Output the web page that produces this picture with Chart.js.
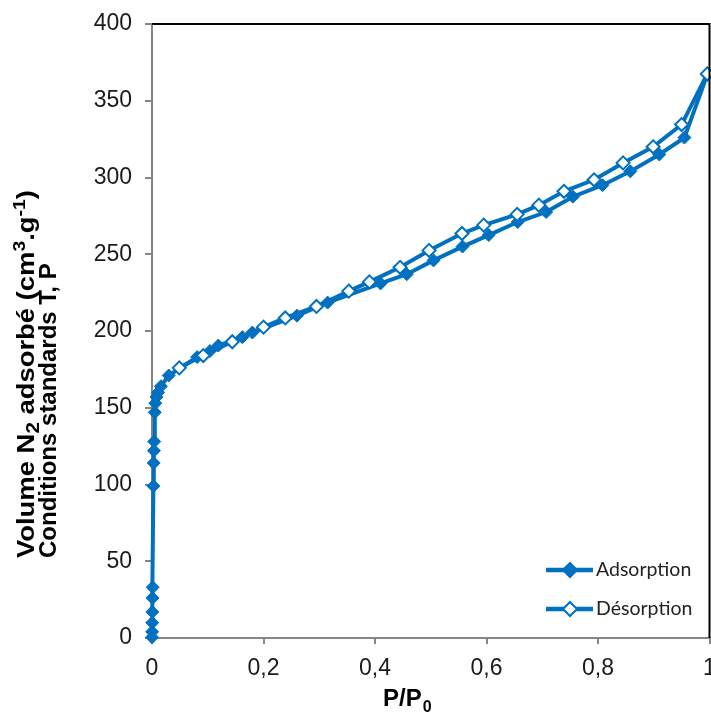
<!DOCTYPE html>
<html>
<head>
<meta charset="utf-8">
<script src="https://cdn.jsdelivr.net/npm/chart.js@4.4.1/dist/chart.umd.min.js"></script>
<style>
  html, body { margin: 0; padding: 0; background: #ffffff; }
  #wrap { width: 711px; height: 715px; position: relative; }
</style>
</head>
<body>
<div id="wrap"><canvas id="c" width="711" height="715"></canvas></div>
<script>
// ---- Data ----
const adsX = [0, 0.0002, 0.0004, 0.0006, 0.0009, 0.0012, 0.0025, 0.003, 0.0035, 0.004, 0.005, 0.006, 0.008, 0.011, 0.016, 0.03, 0.081, 0.104, 0.119, 0.162, 0.18, 0.26, 0.315, 0.41, 0.457, 0.505, 0.557, 0.604, 0.656, 0.707, 0.755, 0.808, 0.858, 0.91, 0.955, 0.996];
const adsY = [0.5, 4, 10, 17, 26, 33, 99, 114, 122, 128, 147, 153, 157, 160, 164, 171, 183, 187, 190.5, 196, 199, 210, 218.5, 231, 237, 246, 255, 262.5, 271, 277.5, 287.5, 295, 304, 315, 326, 367];
const desX = [0.049, 0.092, 0.144, 0.2, 0.239, 0.295, 0.353, 0.39, 0.445, 0.497, 0.556, 0.595, 0.655, 0.694, 0.739, 0.793, 0.845, 0.899, 0.95, 0.996];
const desY = [176, 184, 193, 202.5, 208.5, 216, 226, 232, 241.5, 252.5, 263.5, 269, 276, 282, 291, 298.5, 309.5, 320, 334.5, 367.5];
const seriesNames = ['Adsorption', 'Désorption'];
const xTickLabels = ['0', '0,2', '0,4', '0,6', '0,8', '1'];
const yTickLabels = ['0', '50', '100', '150', '200', '250', '300', '350', '400'];
const xTitle = ['P/P', '0'];
const yTitleLine1 = [['Volume N', 'n'], ['2', 'sub'], [' adsorbé (cm', 'n'], ['3', 'sup'], ['.g', 'n'], ['-1', 'sup'], [')', 'n']];
const yTitleLine2 = 'Conditions standards T, P';

const BLUE = '#0070C0';
const toPts = (xs, ys) => xs.map((x, i) => ({ x: x, y: ys[i] }));

const extras = {
  id: 'extras',
  afterDraw(chart) {
    const ctx = chart.ctx;
    const a = chart.chartArea;
    ctx.save();
    // plot frame top & right
    ctx.strokeStyle = '#000000';
    ctx.lineWidth = 2;
    ctx.beginPath();
    ctx.moveTo(a.left, a.top);
    ctx.lineTo(a.right, a.top);
    ctx.lineTo(a.right, a.bottom);
    ctx.stroke();

    // legend
    const items = [
      { name: seriesNames[0], y: 570, fill: BLUE },
      { name: seriesNames[1], y: 609, fill: '#ffffff' }
    ];
    items.forEach(it => {
      ctx.strokeStyle = BLUE;
      ctx.lineWidth = 4.5;
      ctx.beginPath();
      ctx.moveTo(546, it.y);
      ctx.lineTo(593, it.y);
      ctx.stroke();
      ctx.beginPath();
      const r = 7;
      ctx.moveTo(570, it.y - r);
      ctx.lineTo(570 + r, it.y);
      ctx.lineTo(570, it.y + r);
      ctx.lineTo(570 - r, it.y);
      ctx.closePath();
      ctx.fillStyle = it.fill;
      ctx.fill();
      ctx.lineWidth = 2;
      ctx.stroke();
      ctx.fillStyle = '#222222';
      ctx.font = '19.5px Lato';
      ctx.textBaseline = 'middle';
      ctx.textAlign = 'left';
      ctx.fillText(it.name, 596, it.y);
    });

    // x title
    ctx.fillStyle = '#000000';
    ctx.textBaseline = 'alphabetic';
    ctx.font = 'bold 24px "Liberation Sans"';
    let xx = 383;
    ctx.fillText(xTitle[0], xx, 706);
    xx += ctx.measureText(xTitle[0]).width;
    ctx.font = 'bold 16px "Liberation Sans"';
    ctx.fillText(xTitle[1], xx + 1, 712);

    // y title (rotated)
    ctx.rotate(-Math.PI / 2);
    const fonts = { n: 'bold 24px "Liberation Sans"', sub: 'bold 18px "Liberation Sans"', sup: 'bold 17px "Liberation Sans"' };
    let total = 0;
    yTitleLine1.forEach(([t, k]) => { ctx.font = fonts[k]; total += ctx.measureText(t).width; });
    const stretch = 368 / total;
    ctx.save();
    ctx.translate(-558, 0);
    ctx.scale(stretch, 1);
    let px = 0;
    const base1 = 34;
    yTitleLine1.forEach(([t, k]) => {
      ctx.font = fonts[k];
      const dy = k === 'sub' ? 5 : (k === 'sup' ? -9 : 0);
      ctx.fillText(t, px, base1 + dy);
      px += ctx.measureText(t).width;
    });
    ctx.restore();
    ctx.font = fonts.n;
    ctx.fillText(yTitleLine2, -558, 56);
    ctx.restore();
  }
};

new Chart(document.getElementById('c'), {
  type: 'scatter',
  data: {
    datasets: [
      {
        label: seriesNames[1],
        data: toPts(desX, desY),
        showLine: true,
        borderColor: BLUE,
        borderWidth: 4,
        pointStyle: 'rectRot',
        pointRadius: 6.5,
        pointBorderWidth: 2,
        pointBackgroundColor: '#ffffff',
        pointBorderColor: BLUE,
        tension: 0,
        clip: false,
        order: 0
      },
      {
        label: seriesNames[0],
        data: toPts(adsX, adsY),
        showLine: true,
        borderColor: BLUE,
        borderWidth: 4,
        pointStyle: 'rectRot',
        pointRadius: 6.5,
        pointBorderWidth: 1,
        pointBackgroundColor: BLUE,
        pointBorderColor: BLUE,
        tension: 0,
        clip: false,
        order: 1
      }
    ]
  },
  options: {
    responsive: false,
    animation: false,
    devicePixelRatio: 1,
    layout: { autoPadding: false, padding: { top: 24, right: 1.5, bottom: 0, left: 0 } },
    plugins: {
      legend: { display: false },
      tooltip: { enabled: false }
    },
    scales: {
      x: {
        type: 'linear',
        min: 0,
        max: 1,
        ticks: {
          stepSize: 0.2,
          padding: 11,
          color: '#1a1a1a',
          font: { family: '"Liberation Sans"', size: 23 },
          maxRotation: 0,
          callback: (v) => xTickLabels[Math.round(v * 5)]
        },
        grid: { drawOnChartArea: false, drawTicks: true, tickLength: 6, color: '#868686', lineWidth: 2 },
        border: { color: '#868686', width: 2 },
        afterFit: (s) => { s.height = 77; s.paddingLeft = 0; s.paddingRight = 0; }
      },
      y: {
        type: 'linear',
        min: 0,
        max: 400,
        ticks: {
          stepSize: 50,
          padding: 13,
          color: '#1a1a1a',
          font: { family: '"Liberation Sans"', size: 23 },
          callback: (v) => yTickLabels[Math.round(v / 50)]
        },
        grid: { drawOnChartArea: false, drawTicks: true, tickLength: 7, color: '#868686', lineWidth: 2 },
        border: { color: '#868686', width: 2 },
        afterFit: (s) => { s.width = 152; s.paddingTop = 0; s.paddingBottom = 0; }
      }
    }
  },
  plugins: [extras]
});
</script>
</body>
</html>
